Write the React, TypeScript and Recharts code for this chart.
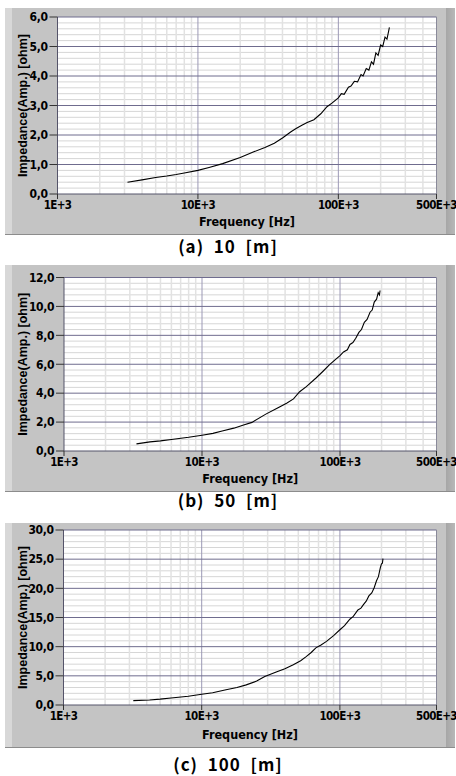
import { LineChart, Line, XAxis, YAxis, ReferenceLine, ReferenceArea } from "recharts";

// frequency in kHz, impedance in ohm
const freqA = [3.15, 4, 5, 6, 7, 8, 10, 12, 15, 20, 25, 30, 35, 40, 46, 50, 55, 60, 67, 75, 83, 90, 100, 105, 110, 118, 123, 130, 137, 145, 150, 158, 165, 172, 178, 185, 192, 200, 207, 215, 222, 231];
const impA = [0.4, 0.48, 0.56, 0.61, 0.66, 0.71, 0.8, 0.9, 1.03, 1.24, 1.43, 1.58, 1.72, 1.9, 2.11, 2.22, 2.33, 2.42, 2.52, 2.72, 2.96, 3.08, 3.26, 3.4, 3.38, 3.62, 3.66, 3.82, 3.8, 4.05, 4.0, 4.25, 4.2, 4.48, 4.4, 4.78, 4.7, 5.05, 5.0, 5.32, 5.25, 5.65];

const freqB = [3.35, 4.2, 5, 6, 8, 10, 12, 14, 17, 20, 23, 29, 35, 41, 46, 51, 57, 67, 75, 84, 92, 100, 106, 113, 118, 124, 130, 137, 143, 150, 157, 165, 171, 177, 184, 189, 193, 195];
const impB = [0.49, 0.63, 0.7, 0.8, 0.95, 1.09, 1.22, 1.38, 1.58, 1.8, 1.98, 2.55, 2.95, 3.3, 3.6, 4.1, 4.45, 5.05, 5.5, 5.97, 6.3, 6.6, 6.85, 7.0, 7.37, 7.5, 7.8, 8.2, 8.4, 8.9, 9.1, 9.6, 9.75, 10.3, 10.5, 10.95, 10.8, 11.1];

const freqC = [3.2, 4.2, 5, 6, 8, 10, 12, 15, 18, 21, 25, 28.6, 35, 40, 46, 52, 57, 62, 67, 73, 80, 90, 100, 108, 118, 125, 135, 142, 148, 155, 162, 170, 177, 184, 190, 196, 200, 203, 205];
const impC = [0.75, 0.86, 1.0, 1.2, 1.5, 1.84, 2.1, 2.6, 3.0, 3.45, 4.1, 4.9, 5.7, 6.2, 6.9, 7.6, 8.3, 9.0, 9.8, 10.3, 10.9, 11.9, 12.9, 13.6, 14.7, 15.2, 16.3, 16.6, 17.2, 17.8, 18.7, 19.2, 20.1, 21.3, 22.0, 23.5, 24.2, 24.3, 25.1];

const yTicksA = [0, 1, 2, 3, 4, 5, 6];
const yTicksB = [0, 2, 4, 6, 8, 10, 12];
const yTicksC = [0, 5, 10, 15, 20, 25, 30];

const xTicks = [1000, 10000, 100000, 500000];
const xTickLabels = ["1E+3", "10E+3", "100E+3", "500E+3"];
const xMajor = [10000, 100000];
const xMinor = [2000, 3000, 4000, 5000, 6000, 7000, 8000, 9000, 20000, 30000, 40000, 50000, 60000, 70000, 80000, 90000, 200000, 300000, 400000];

const tickFont = "'Liberation Sans Narrow','DejaVu Sans Condensed',Arial,sans-serif";
const tickStyle = { fill: "#000", fontSize: 12, fontWeight: "bold", fontFamily: tickFont, letterSpacing: -0.4 };
const xTickStyle = { ...tickStyle, fontSize: 11.5, letterSpacing: -0.6 };

function minorLines(ticks: number[], parts: number) {
  const out: number[] = [];
  for (let i = 0; i < ticks.length - 1; i++) {
    const step = (ticks[i + 1] - ticks[i]) / parts;
    for (let k = 1; k < parts; k++) out.push(ticks[i] + step * k);
  }
  return out;
}

interface PanelProps {
  freq: number[];
  imp: number[];
  yTicks: number[];
  title: string;
  frameTop: number;
  frameBottom: number;
  plotLeft: number;
  plotRight: number;
  plotTop: number;
  plotBottom: number;
  titleY: number;
}

function Panel(p: PanelProps) {
  const data = p.freq.map((f, i) => ({ f: f * 1000, z: p.imp[i] }));
  const yMax = p.yTicks[p.yTicks.length - 1];
  const h = p.frameBottom - p.frameTop;
  const xAxisH = p.frameBottom - p.plotBottom;
  return (
    <>
      <div
        style={{
          position: "absolute",
          left: 5,
          top: p.frameTop,
          width: 450,
          height: h,
          boxSizing: "border-box",
          borderBottom: "1px solid #8c8c8c",
          background:
            "linear-gradient(to right, #d8d8d8 0px, #d8d8d8 7px, #c4c4c4 7px, #c4c4c4 441px, #a6a6a6 441px, #b8b8b8 450px)",
        }}
      />
      <div style={{ position: "absolute", left: 0, top: p.frameTop }}>
        <LineChart
          width={456}
          height={h}
          data={data}
          margin={{ top: p.plotTop - p.frameTop, right: 456 - p.plotRight, bottom: 0, left: 0 }}
        >
          <XAxis
            dataKey="f"
            type="number"
            scale="log"
            domain={[1000, 500000]}
            allowDataOverflow
            ticks={xTicks}
            interval={0}
            height={xAxisH}
            tickSize={5}
            tickMargin={2}
            tickFormatter={(v: number) => xTickLabels[xTicks.indexOf(v)] ?? ""}
            tick={xTickStyle}
            tickLine={{ stroke: "#333" }}
            axisLine={{ stroke: "#55546a" }}
            label={{
              value: "Frequency [Hz]",
              position: "insideBottom",
              offset: 9,
              style: { fill: "#000", fontSize: 12.5, fontWeight: "bold", fontFamily: tickFont },
            }}
          />
          <YAxis
            type="number"
            domain={[0, yMax]}
            ticks={p.yTicks}
            interval={0}
            width={p.plotLeft}
            tickSize={8}
            tickMargin={2}
            tickFormatter={(v: number) => v.toFixed(1).replace(".", ",")}
            tick={tickStyle}
            tickLine={{ stroke: "#333" }}
            axisLine={{ stroke: "#55546a" }}
            label={{
              value: "Impedance(Amp.) [ohm]",
              angle: -90,
              position: "insideLeft",
              offset: 23,
              style: {
                textAnchor: "middle",
                fill: "#000",
                fontSize: 12.5,
                fontWeight: "bold",
                fontFamily: "'Liberation Sans',Arial,sans-serif",
              },
            }}
          />
          <ReferenceArea x1={1000} x2={500000} y1={0} y2={yMax} fill="#ffffff" fillOpacity={1} stroke="none" />
          {minorLines(p.yTicks, 5).map((v) => (
            <ReferenceLine key={"hm" + v} y={v} stroke="#d6d6d6" strokeWidth={1} />
          ))}
          {xMinor.map((v) => (
            <ReferenceLine key={"vm" + v} x={v} stroke="#e2e2e2" strokeWidth={1.5} />
          ))}
          {xMajor.map((v) => (
            <ReferenceLine key={"vM" + v} x={v} stroke="#9c99b6" strokeWidth={1} />
          ))}
          {p.yTicks.slice(1).map((v) => (
            <ReferenceLine key={"hM" + v} y={v} stroke="#6f6c8e" strokeWidth={1} />
          ))}
          <ReferenceLine x={500000} stroke="#8a8a9a" strokeWidth={1} />
          <Line
            type="linear"
            dataKey="z"
            stroke="#000"
            strokeWidth={1.1}
            dot={false}
            isAnimationActive={false}
          />
        </LineChart>
      </div>
      <div
        style={{
          position: "absolute",
          left: 0,
          width: 456,
          top: p.titleY - 12,
          height: 24,
          lineHeight: "24px",
          textAlign: "center",
          whiteSpace: "pre",
          fontFamily: "'Noto Sans CJK JP','Noto Sans',sans-serif",
          fontWeight: "bold",
          fontSize: 17,
          letterSpacing: 1,
          color: "#000",
        }}
      >
        {p.title}
      </div>
    </>
  );
}

export default function App() {
  return (
    <div style={{ position: "relative", width: 456, height: 776, background: "#fff", overflow: "hidden" }}>
      <style>{"body{margin:0}"}</style>
      <Panel
        freq={freqA}
        imp={impA}
        yTicks={yTicksA}
        title={"(a)  10  [m]"}
        frameTop={8}
        frameBottom={235}
        plotLeft={57.5}
        plotRight={436.5}
        plotTop={17}
        plotBottom={194}
        titleY={246}
      />
      <Panel
        freq={freqB}
        imp={impB}
        yTicks={yTicksB}
        title={"(b)  50  [m]"}
        frameTop={265}
        frameBottom={492}
        plotLeft={64}
        plotRight={436.5}
        plotTop={277.5}
        plotBottom={451}
        titleY={500}
      />
      <Panel
        freq={freqC}
        imp={impC}
        yTicks={yTicksC}
        title={"(c)  100  [m]"}
        frameTop={523}
        frameBottom={748}
        plotLeft={63.5}
        plotRight={436.5}
        plotTop={530}
        plotBottom={705}
        titleY={764}
      />
    </div>
  );
}
